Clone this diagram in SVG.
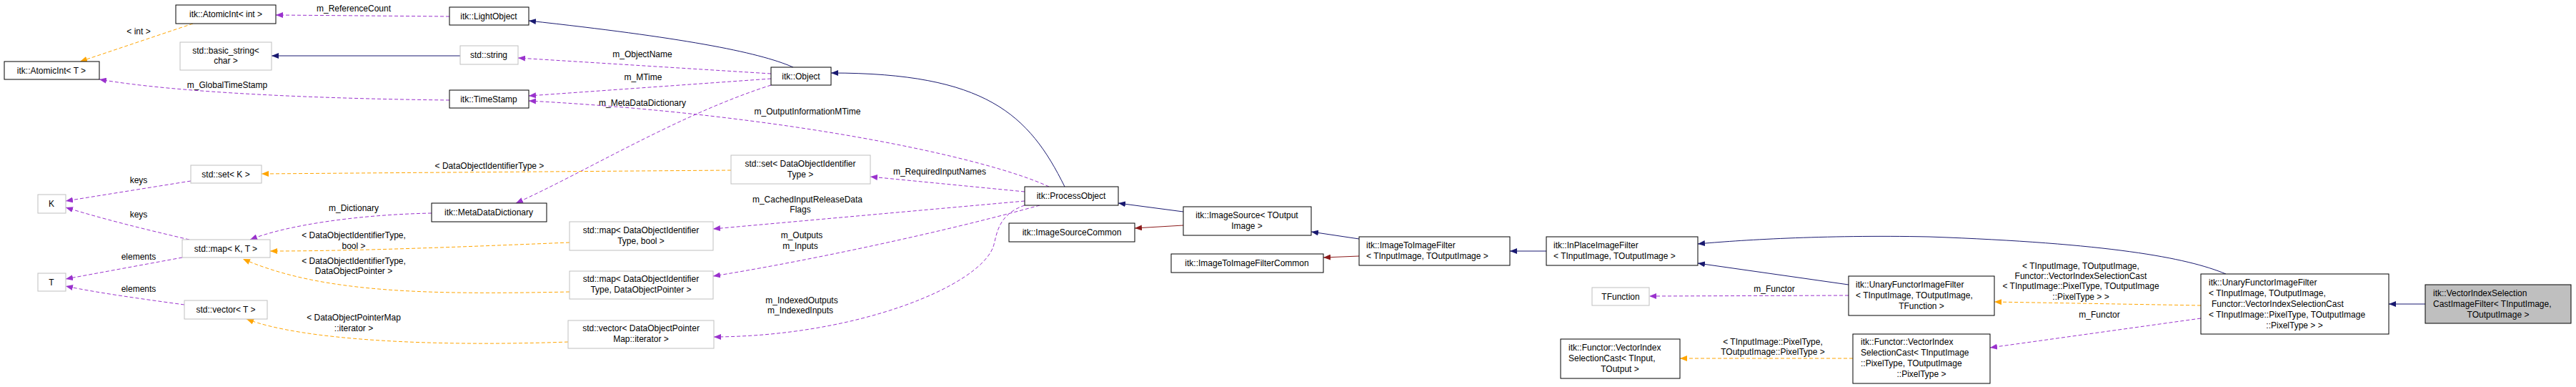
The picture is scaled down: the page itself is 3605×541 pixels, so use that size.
<svg xmlns="http://www.w3.org/2000/svg" width="3605" height="541" viewBox="0 0 3605 541">
<style>
text{font-family:"Liberation Sans",Arial,sans-serif;font-size:12px;fill:#000}
.m{text-anchor:middle}
.nb{fill:#fff;stroke:#000;stroke-width:1}
.ng{fill:#fff;stroke:#bfbfbf;stroke-width:1}
.nf{fill:#bfbfbf;stroke:#000;stroke-width:1}
.inh{fill:none;stroke:#191970;stroke-width:1}
.prv{fill:none;stroke:#8b1a1a;stroke-width:1}
.use{fill:none;stroke:#9a32cd;stroke-width:1;stroke-dasharray:5,3}
.tpl{fill:none;stroke:#ffa500;stroke-width:1;stroke-dasharray:5,3}
</style>
<defs>
<marker id="aN" viewBox="0 0 10 8" refX="10" refY="4" markerWidth="10" markerHeight="8" markerUnits="userSpaceOnUse" orient="auto"><path d="M0,0L10,4L0,8z" fill="#191970"/></marker>
<marker id="aR" viewBox="0 0 10 8" refX="10" refY="4" markerWidth="10" markerHeight="8" markerUnits="userSpaceOnUse" orient="auto"><path d="M0,0L10,4L0,8z" fill="#8b1a1a"/></marker>
<marker id="aP" viewBox="0 0 10 8" refX="10" refY="4" markerWidth="10" markerHeight="8" markerUnits="userSpaceOnUse" orient="auto"><path d="M0,0L10,4L0,8z" fill="#9a32cd"/></marker>
<marker id="aO" viewBox="0 0 10 8" refX="10" refY="4" markerWidth="10" markerHeight="8" markerUnits="userSpaceOnUse" orient="auto"><path d="M0,0L10,4L0,8z" fill="#ffa500"/></marker>
</defs>
<rect width="3605" height="541" fill="#fff"/>
<g id="edges">
<path class="inh" marker-end="url(#aN)" d="M1110,94 C1060,72 950,52 740,29"/>
<path class="inh" marker-end="url(#aN)" d="M644,78 L380,78"/>
<path class="use" marker-end="url(#aP)" d="M1079,103 L725,81"/>
<text class="m" x="899" y="80">m_ObjectName</text>
<path class="use" marker-end="url(#aP)" d="M1079,110 L740,134"/>
<text class="m" x="900" y="112">m_MTime</text>
<path class="use" marker-end="url(#aP)" d="M1079,119 C950,160 820,240 722,284"/>
<text class="m" x="899" y="148">m_MetaDataDictionary</text>
<path class="use" marker-end="url(#aP)" d="M1468,261 C1380,220 1100,160 740,141"/>
<text class="m" x="1130" y="160">m_OutputInformationMTime</text>
<path class="use" marker-end="url(#aP)" d="M629,23 L386,21"/>
<text class="m" x="495" y="16">m_ReferenceCount</text>
<path class="use" marker-end="url(#aP)" d="M629,140 C450,138 250,130 139,111"/>
<text class="m" x="318" y="123">m_GlobalTimeStamp</text>
<path class="tpl" marker-end="url(#aO)" d="M270,33 L112,86"/>
<text class="m" x="194" y="48">&lt; int &gt;</text>
<path class="inh" marker-end="url(#aN)" d="M1490,261 C1440,160 1380,102 1163,102"/>
<path class="use" marker-end="url(#aP)" d="M1434,268 L1218,247"/>
<text class="m" x="1315" y="244">m_RequiredInputNames</text>
<path class="tpl" marker-end="url(#aO)" d="M1023,238 L366,243"/>
<text class="m" x="685" y="236">&lt; DataObjectIdentifierType &gt;</text>
<path class="use" marker-end="url(#aP)" d="M1434,281 L998,320"/>
<text class="m" x="1130" y="283">m_CachedInputReleaseData</text>
<text class="m" x="1120" y="297">Flags</text>
<path class="use" marker-end="url(#aP)" d="M1455,287 C1300,330 1100,370 998,386"/>
<text class="m" x="1122" y="333">m_Outputs</text>
<text class="m" x="1120" y="348">m_Inputs</text>
<path class="use" marker-end="url(#aP)" d="M1434,287 C1395,300 1395,330 1390,345 C1370,400 1200,470 999,471"/>
<text class="m" x="1122" y="424">m_IndexedOutputs</text>
<text class="m" x="1120" y="438">m_IndexedInputs</text>
<path class="tpl" marker-end="url(#aO)" d="M797,339 C650,345 500,351 378,351"/>
<text class="m" x="495" y="333">&lt; DataObjectIdentifierType,</text>
<text class="m" x="495" y="348">bool &gt;</text>
<path class="tpl" marker-end="url(#aO)" d="M797,408 C600,412 450,410 340,362"/>
<text class="m" x="495" y="369">&lt; DataObjectIdentifierType,</text>
<text class="m" x="495" y="383">DataObjectPointer &gt;</text>
<path class="tpl" marker-end="url(#aO)" d="M795,478 C600,485 420,475 345,446"/>
<text class="m" x="495" y="448">&lt; DataObjectPointerMap</text>
<text class="m" x="495" y="463">::iterator &gt;</text>
<path class="use" marker-end="url(#aP)" d="M604,298 C500,300 400,315 350,335"/>
<text class="m" x="495" y="295">m_Dictionary</text>
<path class="use" marker-end="url(#aP)" d="M267,253 L92,281"/>
<text class="m" x="194" y="256">keys</text>
<path class="use" marker-end="url(#aP)" d="M265,335 C200,320 140,305 92,290"/>
<text class="m" x="194" y="304">keys</text>
<path class="use" marker-end="url(#aP)" d="M255,360 L92,390"/>
<text class="m" x="194" y="363">elements</text>
<path class="use" marker-end="url(#aP)" d="M258,426 C200,418 140,410 92,400"/>
<text class="m" x="194" y="408">elements</text>
<path class="inh" marker-end="url(#aN)" d="M1656,296 L1565,284"/>
<path class="prv" marker-end="url(#aR)" d="M1656,315 L1588,319"/>
<path class="inh" marker-end="url(#aN)" d="M1902,334 L1835,324"/>
<path class="prv" marker-end="url(#aR)" d="M1902,358 L1852,360"/>
<path class="inh" marker-end="url(#aN)" d="M2164,351 L2113,351"/>
<path class="inh" marker-end="url(#aN)" d="M2587,398 L2376,368"/>
<path class="inh" marker-end="url(#aN)" d="M3115,383 C3060,360 2950,340 2700,331 C2550,328 2430,336 2376,341"/>
<path class="use" marker-end="url(#aP)" d="M2587,413 L2308,414"/>
<text class="m" x="2483" y="408">m_Functor</text>
<path class="tpl" marker-end="url(#aO)" d="M3080,427 L2791,422"/>
<text class="m" x="2912" y="376">&lt; TInputImage, TOutputImage,</text>
<text class="m" x="2912" y="390">Functor::VectorIndexSelectionCast</text>
<text class="m" x="2912" y="404">&lt; TInputImage::PixelType, TOutputImage</text>
<text class="m" x="2912" y="419">::PixelType &gt; &gt;</text>
<path class="use" marker-end="url(#aP)" d="M3080,445 L2785,486"/>
<text class="m" x="2938" y="444">m_Functor</text>
<path class="tpl" marker-end="url(#aO)" d="M2593,501 L2351,501"/>
<text class="m" x="2481" y="482">&lt; TInputImage::PixelType,</text>
<text class="m" x="2481" y="496">TOutputImage::PixelType &gt;</text>
<path class="inh" marker-end="url(#aN)" d="M3394,425 L3343,425"/>
</g>
<g id="AtomicIntInt"><rect class="nb" x="246" y="7" width="140" height="26"/><text class="m" x="316" y="24">itk::AtomicInt&lt; int &gt;</text></g>
<g id="basic_string"><rect class="ng" x="252" y="59" width="128" height="39"/><text class="m" x="316" y="75">std::basic_string&lt;</text><text class="m" x="316" y="89">char &gt;</text></g>
<g id="AtomicIntT"><rect class="nb" x="6" y="86" width="133" height="25"/><text class="m" x="72" y="103">itk::AtomicInt&lt; T &gt;</text></g>
<g id="setK"><rect class="ng" x="267" y="231" width="99" height="25"/><text class="m" x="316" y="248">std::set&lt; K &gt;</text></g>
<g id="K"><rect class="ng" x="53" y="272" width="39" height="26"/><text class="m" x="72" y="289">K</text></g>
<g id="mapKT"><rect class="ng" x="255" y="335" width="123" height="25"/><text class="m" x="316" y="352">std::map&lt; K, T &gt;</text></g>
<g id="T"><rect class="ng" x="53" y="382" width="39" height="25"/><text class="m" x="72" y="399">T</text></g>
<g id="vectorT"><rect class="ng" x="258" y="420" width="116" height="26"/><text class="m" x="316" y="437">std::vector&lt; T &gt;</text></g>
<g id="LightObject"><rect class="nb" x="629" y="10" width="111" height="25"/><text class="m" x="684" y="27">itk::LightObject</text></g>
<g id="string"><rect class="ng" x="644" y="64" width="81" height="26"/><text class="m" x="684" y="81">std::string</text></g>
<g id="Object"><rect class="nb" x="1079" y="94" width="84" height="25"/><text class="m" x="1121" y="111">itk::Object</text></g>
<g id="TimeStamp"><rect class="nb" x="629" y="126" width="111" height="25"/><text class="m" x="684" y="143">itk::TimeStamp</text></g>
<g id="MetaDataDictionary"><rect class="nb" x="604" y="284" width="161" height="26"/><text class="m" x="684" y="301">itk::MetaDataDictionary</text></g>
<g id="setDOI"><rect class="ng" x="1023" y="217" width="195" height="40"/><text class="m" x="1120" y="233">std::set&lt; DataObjectIdentifier</text><text class="m" x="1120" y="248">Type &gt;</text></g>
<g id="mapDOIbool"><rect class="ng" x="797" y="310" width="201" height="40"/><text class="m" x="897" y="326">std::map&lt; DataObjectIdentifier</text><text class="m" x="897" y="341">Type, bool &gt;</text></g>
<g id="mapDOIDOP"><rect class="ng" x="797" y="379" width="201" height="39"/><text class="m" x="897" y="394">std::map&lt; DataObjectIdentifier</text><text class="m" x="897" y="409">Type, DataObjectPointer &gt;</text></g>
<g id="vectorDOP"><rect class="ng" x="795" y="448" width="204" height="39"/><text class="m" x="897" y="463">std::vector&lt; DataObjectPointer</text><text class="m" x="897" y="478">Map::iterator &gt;</text></g>
<g id="ProcessObject"><rect class="nb" x="1434" y="261" width="131" height="26"/><text class="m" x="1499" y="278">itk::ProcessObject</text></g>
<g id="ImageSourceCommon"><rect class="nb" x="1412" y="312" width="176" height="26"/><text class="m" x="1500" y="329">itk::ImageSourceCommon</text></g>
<g id="ImageSource"><rect class="nb" x="1656" y="289" width="179" height="40"/><text class="m" x="1745" y="305">itk::ImageSource&lt; TOutput</text><text class="m" x="1745" y="320">Image &gt;</text></g>
<g id="ImageToImageFilterCommon"><rect class="nb" x="1639" y="355" width="213" height="26"/><text class="m" x="1745" y="372">itk::ImageToImageFilterCommon</text></g>
<g id="ImageToImageFilter"><rect class="nb" x="1902" y="331" width="211" height="40"/><text x="1912" y="347">itk::ImageToImageFilter</text><text x="1912" y="362">&lt; TInputImage, TOutputImage &gt;</text></g>
<g id="InPlaceImageFilter"><rect class="nb" x="2164" y="331" width="212" height="40"/><text x="2174" y="347">itk::InPlaceImageFilter</text><text x="2174" y="362">&lt; TInputImage, TOutputImage &gt;</text></g>
<g id="TFunction"><rect class="ng" x="2228" y="402" width="80" height="25"/><text class="m" x="2268" y="419">TFunction</text></g>
<g id="FunctorVISgeneric"><rect class="nb" x="2184" y="474" width="167" height="55"/><text x="2195" y="490">itk::Functor::VectorIndex</text><text x="2195" y="505">SelectionCast&lt; TInput,</text><text class="m" x="2267" y="520">TOutput &gt;</text></g>
<g id="UnaryTFunction"><rect class="nb" x="2587" y="386" width="204" height="55"/><text x="2597" y="402">itk::UnaryFunctorImageFilter</text><text x="2597" y="417">&lt; TInputImage, TOutputImage,</text><text class="m" x="2689" y="432">TFunction &gt;</text></g>
<g id="FunctorVISpixel"><rect class="nb" x="2593" y="467" width="192" height="69"/><text x="2604" y="482">itk::Functor::VectorIndex</text><text x="2604" y="497">SelectionCast&lt; TInputImage</text><text x="2604" y="512">::PixelType, TOutputImage</text><text class="m" x="2689" y="527">::PixelType &gt;</text></g>
<g id="UnaryVIS"><rect class="nb" x="3080" y="383" width="263" height="84"/><text x="3091" y="399">itk::UnaryFunctorImageFilter</text><text x="3091" y="414">&lt; TInputImage, TOutputImage,</text><text x="3095" y="429">Functor::VectorIndexSelectionCast</text><text x="3091" y="444">&lt; TInputImage::PixelType, TOutputImage</text><text class="m" x="3211" y="459">::PixelType &gt; &gt;</text></g>
<g id="VectorIndexSelectionCastImageFilter"><rect class="nf" x="3394" y="398" width="204" height="54"/><text x="3405" y="414">itk::VectorIndexSelection</text><text x="3405" y="429">CastImageFilter&lt; TInputImage,</text><text class="m" x="3496" y="444">TOutputImage &gt;</text></g>
</svg>
